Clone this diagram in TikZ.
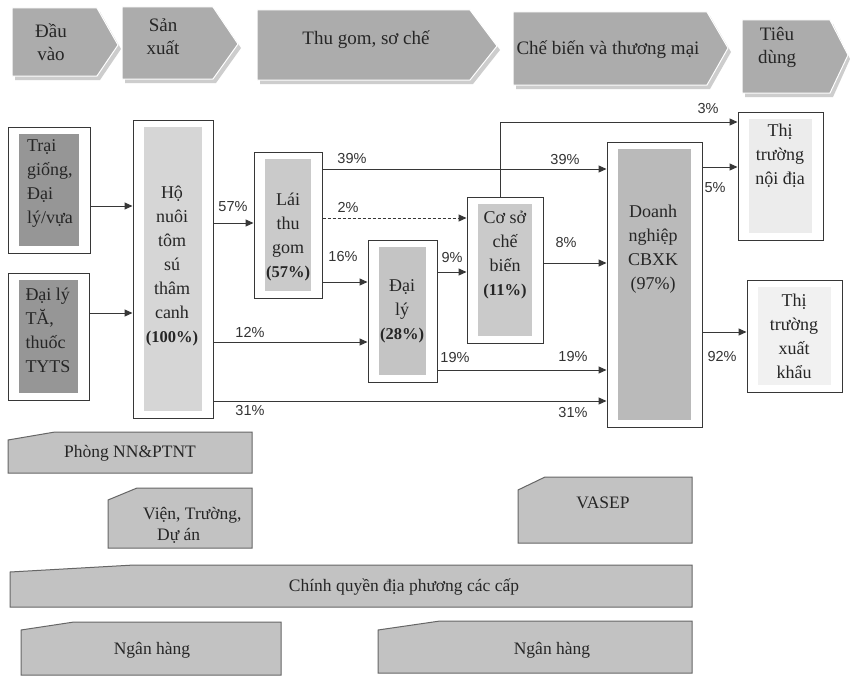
\documentclass[tikz,border=0pt]{standalone}
\usepackage{fontspec}
\setmainfont{Liberation Serif}
\newfontfamily\sansf{Liberation Sans}
\usetikzlibrary{arrows.meta}
\definecolor{cChev}{RGB}{172,172,172}
\definecolor{cShad}{RGB}{205,205,205}
\definecolor{cBot}{RGB}{194,194,194}
\definecolor{cTG}{RGB}{150,150,150}
\definecolor{cHo}{RGB}{214,214,214}
\definecolor{cLai}{RGB}{202,202,202}
\definecolor{cDL}{RGB}{196,196,196}
\definecolor{cCS}{RGB}{202,202,202}
\definecolor{cDN}{RGB}{186,186,186}
\definecolor{cND}{RGB}{236,236,236}
\definecolor{cXK}{RGB}{241,241,241}
\definecolor{cLine}{RGB}{55,55,55}
\tikzset{
  chev/.style={fill=cChev, draw=white, line width=1pt},
  chevshadow/.style={fill=cShad},
  chevtext/.style={font=\fontsize{19}{23}\selectfont, align=center, inner sep=0pt, text=black!85},
  ob/.style={draw=cLine, line width=1pt},
  innerfill/.style={path picture={\fill[#1] ([xshift=11pt,yshift=7pt]path picture bounding box.south west) rectangle ([xshift=-11pt,yshift=-7pt]path picture bounding box.north east);}},
  bt/.style={font=\fontsize{18}{24}\selectfont, align=center, inner sep=0pt, text=black!85},
  pct/.style={font=\sansf\fontsize{14.5}{16}\selectfont, inner sep=0pt, text=black!80},
  arr/.style={draw=cLine, line width=1pt, -{Triangle[length=8pt,width=7pt]}},
  bb/.style={fill=cBot, draw=black!60, line width=1pt},
  bbtext/.style={font=\fontsize{17.5}{21}\selectfont, align=center, inner sep=0pt, text=black!85}
}
\newcommand{\bpct}[1]{{\bfseries\fontsize{16.5}{24}\selectfont #1}}
\begin{document}
\begin{tikzpicture}[x=1pt,y=-1pt]
\useasboundingbox[fill=white] (0,0) rectangle (850,677);

% ---------- top chevrons ----------
\fill[chevshadow] (15,12) -- (100,12) -- (121,49) -- (100,80) -- (15,80) -- cycle;
\path[chev] (12,8) -- (97,8) -- (118,45) -- (97,76) -- (12,76) -- cycle;
\node[chevtext] (c1) at (51,42) {Đầu\\vào};

\fill[chevshadow] (125,11) -- (216,11) -- (241,48) -- (216,83) -- (125,83) -- cycle;
\path[chev] (122,7) -- (213,7) -- (238,44) -- (213,79) -- (122,79) -- cycle;
\node[chevtext] (c2) at (163,37) {Sản\\xuất};

\fill[chevshadow] (260,14) -- (473,14) -- (500,50) -- (473,84) -- (260,84) -- cycle;
\path[chev] (257,10) -- (470,10) -- (497,46) -- (470,80) -- (257,80) -- cycle;
\node[chevtext] (c3) at (366,40) {Thu gom, sơ chế};

\fill[chevshadow] (516,16) -- (710,16) -- (731,52) -- (710,89) -- (516,89) -- cycle;
\path[chev] (513,12) -- (707,12) -- (728,48) -- (707,85) -- (513,85) -- cycle;
\node[chevtext] (c4) at (608,50) {Chế biến và thương mại};

\fill[chevshadow] (745,24) -- (833,24) -- (850,59) -- (833,97) -- (745,97) -- cycle;
\path[chev] (742,20) -- (830,20) -- (848,55) -- (830,93) -- (742,93) -- cycle;
\node[chevtext] (c5) at (777,47) {Tiêu\\dùng};

% ---------- main boxes ----------
\node[ob, innerfill=cTG, minimum width=82pt, minimum height=126pt] (tg) at (49,190) {};
\node[bt, align=left] (tgt) at (50,183) {Trại\\giống,\\Đại\\lý/vựa};

\node[ob, innerfill=cTG, minimum width=81pt, minimum height=127pt] (ta) at (48.5,336.5) {};
\node[bt, align=left] (tat) at (48,330) {Đại lý\\TĂ,\\thuốc\\TYTS};

\node[ob, innerfill=cHo, minimum width=80pt, minimum height=298pt] (ho) at (173,269) {};
\node[bt] (hot) at (172,266) {Hộ\\nuôi\\tôm\\sú\\thâm\\canh\\\bpct{(100\%)}};

\node[ob, innerfill=cLai, minimum width=68pt, minimum height=146pt] (lai) at (288,225) {};
\node[bt] (lait) at (288,237) {Lái\\thu\\gom\\\bpct{(57\%)}};

\node[ob, innerfill=cDL, minimum width=69pt, minimum height=142pt] (dl) at (402.5,311) {};
\node[bt] (dlt) at (402,311) {Đại\\lý\\\bpct{(28\%)}};

\node[ob, innerfill=cCS, minimum width=76pt, minimum height=146pt] (cs) at (505,270) {};
\node[bt] (cst) at (505,255) {Cơ sở\\chế\\biến\\\bpct{(11\%)}};

\node[ob, innerfill=cDN, minimum width=95pt, minimum height=285pt] (dn) at (654.5,284.5) {};
\node[bt] (dnt) at (653,249) {Doanh\\nghiệp\\CBXK\\(97\%)};

\node[ob, innerfill=cND, minimum width=85pt, minimum height=128pt] (nd) at (780.5,176) {};
\node[bt] (ndt) at (780,156) {Thị\\trường\\nội địa};

\node[ob, innerfill=cXK, minimum width=95pt, minimum height=112pt] (xk) at (794.5,336) {};
\node[bt] (xkt) at (794,336) {Thị\\trường\\xuất\\khẩu};

% ---------- connectors ----------
\draw[arr] (tg.east |- 0,206) -- (ho.west |- 0,206);
\draw[arr] (ta.east |- 0,313) -- (ho.west |- 0,313);
\draw[arr] (ho.east |- 0,223) -- (lai.west |- 0,223);
\draw[arr] (lai.east |- 0,169) -- (dn.west |- 0,169);
\draw[arr, densely dashed] (lai.east |- 0,218) -- (cs.west |- 0,218);
\draw[arr] (lai.east |- 0,282) -- (dl.west |- 0,282);
\draw[arr] (dl.east |- 0,272) -- (cs.west |- 0,272);
\draw[arr] (ho.east |- 0,342) -- (dl.west |- 0,342);
\draw[arr] (dl.east |- 0,370) -- (dn.west |- 0,370);
\draw[arr] (ho.east |- 0,401) -- (dn.west |- 0,401);
\draw[arr] (cs.east |- 0,263) -- (dn.west |- 0,263);
\draw[arr] (cs.north -| 500,0) |- (nd.west |- 0,122);
\draw[arr] (dn.east |- 0,167) -- (nd.west |- 0,167);
\draw[arr] (dn.east |- 0,332) -- (xk.west |- 0,332);

% ---------- percent labels ----------
\node[pct] (l57) at (233,207) {57\%};
\node[pct] (l39a) at (352,159) {39\%};
\node[pct] (l39b) at (565,160) {39\%};
\node[pct] (l2) at (348,207) {2\%};
\node[pct] (l16) at (343,257) {16\%};
\node[pct] (l9) at (452,258) {9\%};
\node[pct] (l12) at (250,332) {12\%};
\node[pct] (l19a) at (455,358) {19\%};
\node[pct] (l19b) at (573,357) {19\%};
\node[pct] (l31a) at (250,411) {31\%};
\node[pct] (l31b) at (573,413) {31\%};
\node[pct] (l8) at (566,243) {8\%};
\node[pct] (l3) at (708,109) {3\%};
\node[pct] (l5) at (715,188) {5\%};
\node[pct] (l92) at (722,357) {92\%};

% ---------- bottom boxes ----------
\draw[bb] (8,440) -- (55,432) -- (252,432) -- (252,473) -- (8,473) -- cycle;
\node[bbtext] (phong) at (130,453) {Phòng NN\&PTNT};

\draw[bb] (108,500) -- (137,488) -- (252,488) -- (252,548) -- (108,548) -- cycle;
\node[bbtext, align=left, anchor=west] (vien) at (143,525) {Viện, Trường,\\\hspace*{14pt}Dự án};

\draw[bb] (518,490) -- (545,477) -- (692,477) -- (692,543) -- (518,543) -- cycle;
\node[bbtext] (vasep) at (603,503) {VASEP};

\draw[bb] (10,572) -- (134,565) -- (692,565) -- (692,607) -- (10,607) -- cycle;
\node[bbtext] (cq) at (404,587) {Chính quyền địa phương các cấp};

\draw[bb] (21,630) -- (74,622) -- (281,622) -- (281,675) -- (21,675) -- cycle;
\node[bbtext] (nh1) at (152,650) {Ngân hàng};

\draw[bb] (378,630) -- (440,621) -- (692,621) -- (692,673) -- (378,673) -- cycle;
\node[bbtext] (nh2) at (552,650) {Ngân hàng};
\end{tikzpicture}
\end{document}
